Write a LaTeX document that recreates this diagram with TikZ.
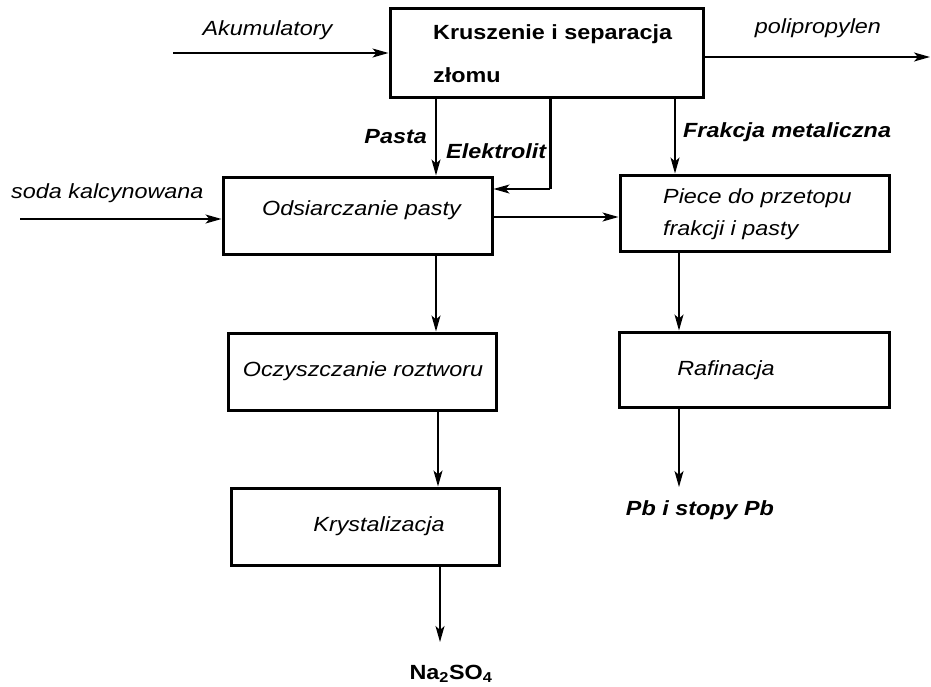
\documentclass[tikz,border=0pt]{standalone}
\usepackage{fontspec}
\setmainfont[FakeStretch=1.14]{Liberation Sans}
\usetikzlibrary{arrows.meta}
\begin{document}
\begin{tikzpicture}[x=1pt,y=-1pt,
  every node/.style={font=\fontsize{20.5pt}{24pt}\selectfont, inner sep=0pt},
  box/.style={draw, line width=3pt, inner sep=0pt},
  flow/.style={line width=1.4pt, -{Stealth[length=16pt,width=9pt,inset=4pt]}},
  lbl/.style={font=\fontsize{20.5pt}{24pt}\selectfont\itshape},
  blbl/.style={font=\fontsize{20.5pt}{24pt}\selectfont\bfseries\itshape},
  btxt/.style={font=\fontsize{20.5pt}{24pt}\selectfont\bfseries}]
\useasboundingbox (0,0) rectangle (931,686);

% boxes
\node[box, minimum width=313pt, minimum height=89pt] (b1) at (546.5,52.5) {};
\node[box, minimum width=269pt, minimum height=77pt] (b2) at (357.5,215.5) {};
\node[box, minimum width=269pt, minimum height=76pt] (b3) at (754.5,213) {};
\node[box, minimum width=268pt, minimum height=77pt] (b4) at (362,371.5) {};
\node[box, minimum width=270pt, minimum height=75pt] (b5) at (754,369.5) {};
\node[box, minimum width=268pt, minimum height=77pt] (b6) at (365,526.5) {};

% box texts
\node[btxt, anchor=base west] (t1a) at (433,39) {Kruszenie i separacja};
\node[btxt, anchor=base west] (t1b) at (433,82) {złomu};
\node[lbl, anchor=base] (t2) at (361.5,215) {Odsiarczanie pasty};
\node[lbl, anchor=base west] (t3a) at (663,203) {Piece do przetopu};
\node[lbl, anchor=base west] (t3b) at (663,235) {frakcji i pasty};
\node[lbl, anchor=base] (t4) at (363,376) {Oczyszczanie roztworu};
\node[lbl, anchor=base] (t5) at (726,375) {Rafinacja};
\node[lbl, anchor=base] (t6) at (379,531) {Krystalizacja};

% flow labels
\node[lbl, anchor=base] (lakum) at (267.5,35) {Akumulatory};
\node[lbl, anchor=base] (lpoli) at (818,33) {polipropylen};
\node[blbl, anchor=base east] (lpasta) at (427,143) {Pasta};
\node[blbl, anchor=base west] (lelek) at (446,158) {Elektrolit};
\node[blbl, anchor=base west] (lfrak) at (683,137) {Frakcja metaliczna};
\node[lbl, anchor=base west] (lsoda) at (11,198) {soda kalcynowana};
\node[blbl, anchor=base] (lpb) at (700,515) {Pb i stopy Pb};
\node[btxt, anchor=base] (lna) at (451,679) {Na\textsubscript{2}SO\textsubscript{4}};

% helper coordinates
\coordinate (akin) at (173,53);
\coordinate (ppout) at (930,57);
\coordinate (xpasta) at (436,0);
\coordinate (xelek) at (550,189);
\coordinate (xfrak) at (675,0);
\coordinate (sodain) at (20,219);
\coordinate (y23) at (0,217);
\coordinate (xright) at (679,0);
\coordinate (pbend) at (679,487);
\coordinate (x46) at (438,0);
\coordinate (naend) at (440,642);

% connectors
\draw[flow] (akin) -- (akin -| b1.west);
\draw[flow] (ppout -| b1.east) -- (ppout);
\draw[flow] (xpasta |- b1.south) -- (xpasta |- b2.north);
\draw[line width=3pt] (xelek |- b1.south) -- (xelek);
\draw[flow] (xelek) -- (xelek -| b2.east);
\draw[flow] (xfrak |- b1.south) -- (xfrak |- b3.north);
\draw[flow] (sodain) -- (sodain -| b2.west);
\draw[flow] (y23 -| b2.east) -- (y23 -| b3.west);
\draw[flow] (xpasta |- b2.south) -- (xpasta |- b4.north);
\draw[flow] (xright |- b3.south) -- (xright |- b5.north);
\draw[flow] (xright |- b5.south) -- (pbend);
\draw[flow] (x46 |- b4.south) -- (x46 |- b6.north);
\draw[flow] (naend |- b6.south) -- (naend);
\end{tikzpicture}
\end{document}
